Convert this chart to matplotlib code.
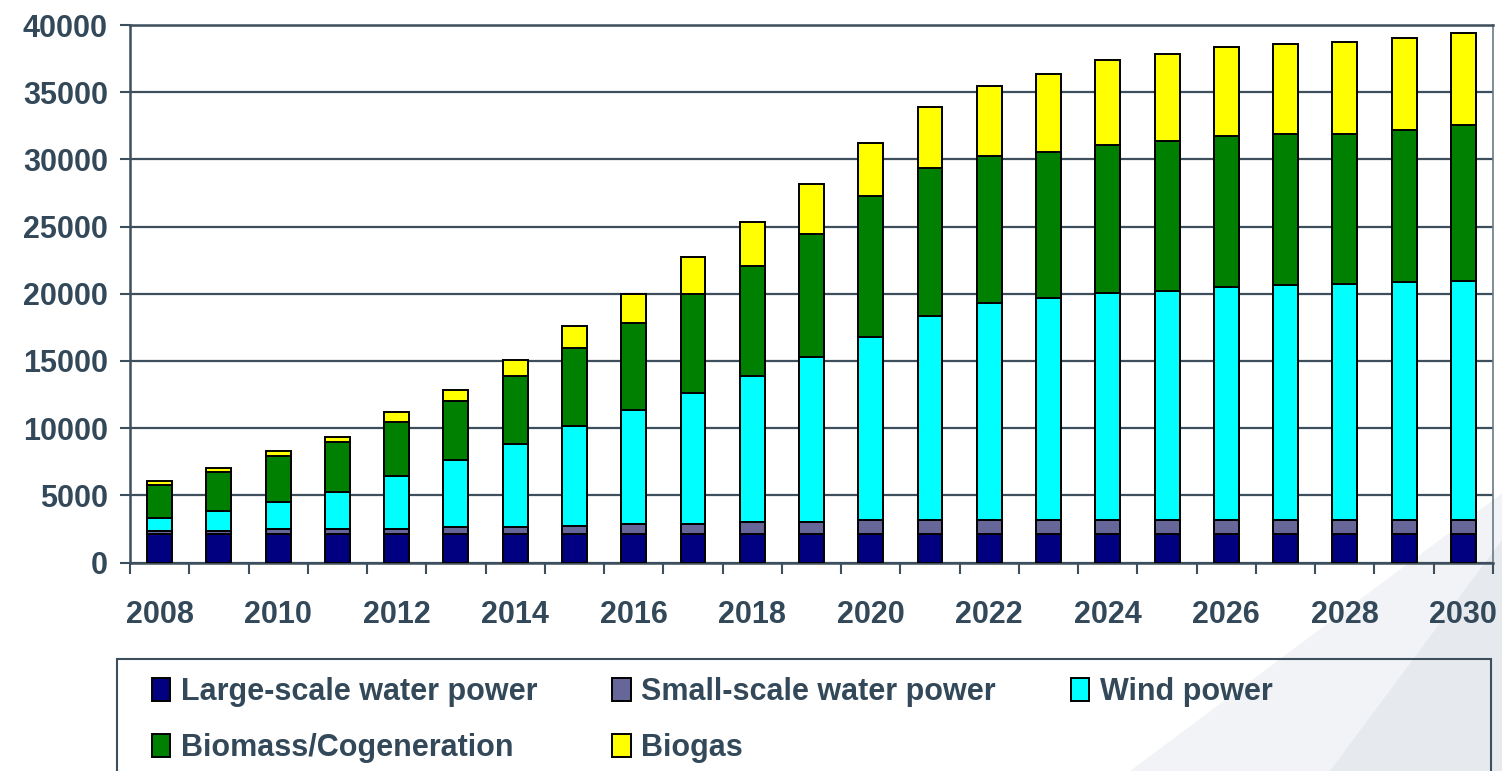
import numpy as np
import matplotlib
matplotlib.use("Agg")
import matplotlib.pyplot as plt
from matplotlib.patches import Rectangle, Polygon

plt.rcParams['font.family'] = ['Liberation Sans', 'DejaVu Sans']
plt.rcParams['font.weight'] = 'bold'

years = list(range(2008, 2031))

large_water = [2100] * 23
small_water = [250, 250, 400, 400, 400, 550, 550, 650, 800, 800, 950, 950,
               1100, 1100, 1100, 1100, 1100, 1100, 1100, 1100, 1100, 1100, 1100]
wind = [930, 1500, 2000, 2760, 3930, 4970, 6180, 7390, 8430, 9750, 10830, 12270,
        13580, 15170, 16100, 16470, 16880, 16990, 17290, 17420, 17540, 17640, 17740]
biomass = [2480, 2850, 3410, 3690, 3990, 4380, 5050, 5850, 6490, 7300, 8200, 9160,
           10470, 10990, 10980, 10880, 11020, 11150, 11270, 11270, 11150, 11320, 11590]
biogas = [320, 300, 400, 400, 780, 820, 1190, 1580, 2130, 2800, 3290, 3690,
          3970, 4510, 5180, 5840, 6310, 6490, 6620, 6730, 6880, 6860, 6890]

series = [
    ("Large-scale water power", large_water, "#000080"),
    ("Small-scale water power", small_water, "#666699"),
    ("Wind power", wind, "#00FFFF"),
    ("Biomass/Cogeneration", biomass, "#008000"),
    ("Biogas", biogas, "#FFFF00"),
]

txt = "#33495a"
line = "#3d4f5c"

W, H = 1502, 771
fig = plt.figure(figsize=(W / 100, H / 100), dpi=100)
fig.patch.set_facecolor("white")

# faint slide shading bottom right
fig.patches.append(Polygon([(1130 / W, 0), (1, 0), (1, 0.36), (1440 / W, 0.30)],
                           closed=True, transform=fig.transFigure,
                           facecolor="#f1f3f6", edgecolor="none", zorder=-5))
fig.patches.append(Polygon([(1330 / W, 0), (1, 0), (1, 0.30)],
                           closed=True, transform=fig.transFigure,
                           facecolor="#e6e9ed", edgecolor="none", zorder=-4))

ax = fig.add_axes([130 / W, (H - 562.5) / H, (1493 - 130) / W, (562.5 - 25) / H])
ax.set_facecolor("none")

x = np.arange(len(years))
bottom = np.zeros(len(years))
handles = {}
for name, vals, col in series:
    b = ax.bar(x, vals, width=0.42, bottom=bottom, color=col,
               edgecolor="black", linewidth=1.4, label=name, zorder=3)
    handles[name] = b
    bottom += np.array(vals)

ax.set_xlim(-0.5, len(years) - 0.5)
ax.set_ylim(0, 40000)
ax.set_yticks(np.arange(0, 40001, 5000))
ax.yaxis.grid(True, color=line, linewidth=1.6)
ax.set_axisbelow(True)
ax.tick_params(axis="y", direction="out", length=7, width=1.5, color=line,
               labelsize=22, labelcolor=txt, pad=9)

ax.set_xticks(np.arange(-0.5, len(years), 1.0))
ax.set_xticklabels([])
ax.set_xticks(x[::2], minor=True)
ax.set_xticklabels([str(y) for y in years[::2]], minor=True)
ax.tick_params(axis="x", which="major", direction="out", length=8, width=1.5, color=line)
ax.tick_params(axis="x", which="minor", length=0, labelsize=22, labelcolor=txt, pad=27)

for s in ["left", "bottom", "top"]:
    ax.spines[s].set_color(line)
    ax.spines[s].set_linewidth(1.8)
ax.spines["right"].set_color("#6a7a86")
ax.spines["right"].set_linewidth(1.2)

# legend frame (runs off the bottom of the slide)
fig.patches.append(Rectangle((117 / W, -0.05), (1491 - 117) / W, 0.05 + (H - 659) / H,
                             transform=fig.transFigure, facecolor="none",
                             edgecolor=line, linewidth=1.5, zorder=-1))

order = ["Large-scale water power", "Biomass/Cogeneration", "Small-scale water power",
         "Biogas", "Wind power"]
leg = fig.legend([handles[n] for n in order], order, ncol=3, frameon=False,
                 loc="upper left", bbox_to_anchor=(152 / W, 1 - 677 / H),
                 borderaxespad=0, borderpad=0, prop={"size": 22, "weight": "bold"},
                 handlelength=0.6, handleheight=0.75, handletextpad=0.35,
                 columnspacing=2.45, labelspacing=0.85)
for t in leg.get_texts():
    t.set_color(txt)

fig.savefig("out.png", dpi=100)
